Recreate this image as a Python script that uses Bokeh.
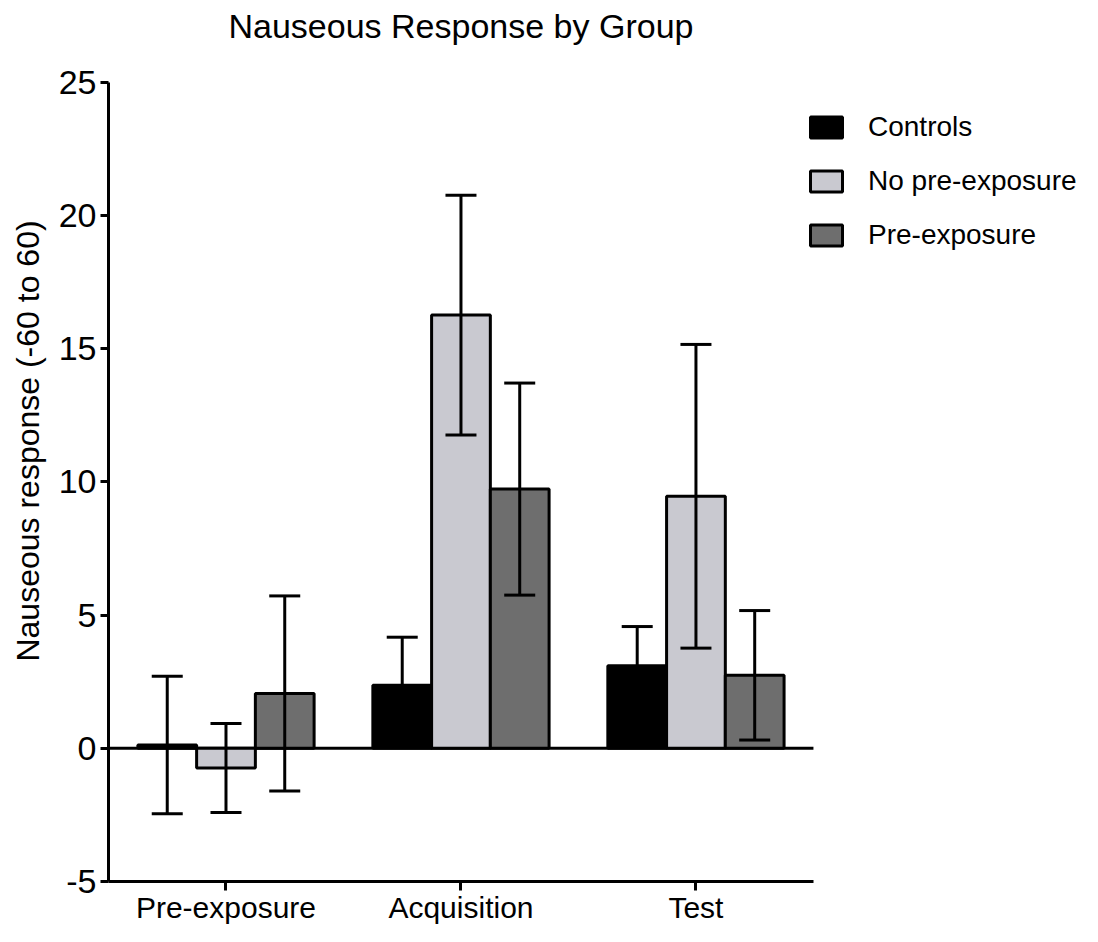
from bokeh.plotting import figure
from bokeh.models import (ColumnDataSource, Range1d, Whisker, TeeHead, Label,
                          Legend, LegendItem, FixedTicker)
from bokeh.transform import dodge
from bokeh.embed import file_html
from bokeh.resources import INLINE

# ---- data ----
phases = ["Pre-exposure", "Acquisition", "Test"]
series_names = ["Controls", "No pre-exposure", "Pre-exposure"]
controls = [0.12, 2.37, 3.10]
controls_err = [2.58, 1.80, 1.47]
no_pre = [-0.74, 16.26, 9.46]
no_pre_err = [1.67, 4.50, 5.70]
pre = [2.06, 9.73, 2.74]
pre_err = [3.66, 3.98, 2.43]
y_ticks = [-5, 0, 5, 10, 15, 20, 25]
y_tick_labels = {-5: "-5", 0: "0", 5: "5", 10: "10", 15: "15", 20: "20", 25: "25"}

FONT = "Liberation Sans"

# category centres on a numeric axis (one unit per phase)
n = len(phases)
centers = [i + 0.5 for i in range(n)]

p = figure(x_range=Range1d(0, 4.145), y_range=Range1d(-5, 28.07),
           width=1082, height=926,
           output_backend="svg", toolbar_location=None,
           min_border_left=108, min_border_right=0,
           min_border_top=0, min_border_bottom=0)

# zero line across the category area
p.segment(x0=0, y0=0, x1=n, y1=0, line_color="black", line_width=3)

fills = ["#000000", "#c9c9d0", "#6e6e6e"]
offsets = [-0.25, 0.0, 0.25]
vals = [controls, no_pre, pre]
errs = [controls_err, no_pre_err, pre_err]

renderers = []
for name, v, e, c, off in zip(series_names, vals, errs, fills, offsets):
    src = ColumnDataSource(dict(
        xc=centers, val=v,
        upper=[a + b for a, b in zip(v, e)],
        lower=[a - b for a, b in zip(v, e)],
    ))
    r = p.vbar(x=dodge("xc", off), top="val", bottom=0,
               width=0.25, source=src, fill_color=c,
               line_color="black", line_width=3)
    renderers.append(r)
    w = Whisker(source=src, base=dodge("xc", off),
                upper="upper", lower="lower", dimension="height",
                line_color="black", line_width=3, level="annotation",
                upper_head=TeeHead(size=31, line_width=3, line_color="black"),
                lower_head=TeeHead(size=31, line_width=3, line_color="black"))
    p.add_layout(w)

legend = Legend(items=[LegendItem(label=nm, renderers=[r]) for nm, r in zip(series_names, renderers)],
                location=(698, 630), orientation="vertical",
                border_line_color=None, background_fill_alpha=0,
                padding=0, margin=0, spacing=21,
                glyph_width=40, glyph_height=26, label_standoff=22,
                label_text_font=FONT, label_text_font_size="28px",
                label_text_color="black", label_height=33)
p.add_layout(legend)

title = Label(x=n / 2, y=27.1, text="Nauseous Response by Group",
              text_align="center", text_baseline="middle",
              text_font=FONT, text_font_size="34px", text_color="black")
p.add_layout(title)

for ax in (p.xaxis[0], p.yaxis[0]):
    ax.axis_line_width = 3
    ax.axis_line_color = "black"
    ax.major_tick_line_width = 3
    ax.major_tick_line_color = "black"
    ax.major_tick_in = 0
    ax.minor_tick_line_color = None
    ax.major_label_text_font = FONT
    ax.major_label_text_color = "black"

p.xaxis.bounds = (0, n)
p.xaxis.ticker = FixedTicker(ticks=centers)
p.xaxis.major_label_overrides = {c: ph for c, ph in zip(centers, phases)}
p.xaxis.major_tick_out = 9
p.xaxis.major_label_text_font_size = "30px"
p.xaxis.major_label_standoff = 0

p.yaxis.bounds = (-5, 25)
p.yaxis.ticker = FixedTicker(ticks=y_ticks)
p.yaxis.major_label_overrides = y_tick_labels
p.yaxis.major_tick_out = 8
p.yaxis.major_label_text_font_size = "34px"
p.yaxis.major_label_standoff = 4
p.yaxis.axis_label = "Nauseous response (-60 to 60)"
p.yaxis.axis_label_text_font = FONT
p.yaxis.axis_label_text_font_size = "32px"
p.yaxis.axis_label_text_font_style = "normal"
p.yaxis.axis_label_text_color = "black"
p.yaxis.axis_label_standoff = 10

p.xgrid.grid_line_color = None
p.ygrid.grid_line_color = None
p.outline_line_color = None

open("out.html", "w").write(file_html(p, INLINE))
